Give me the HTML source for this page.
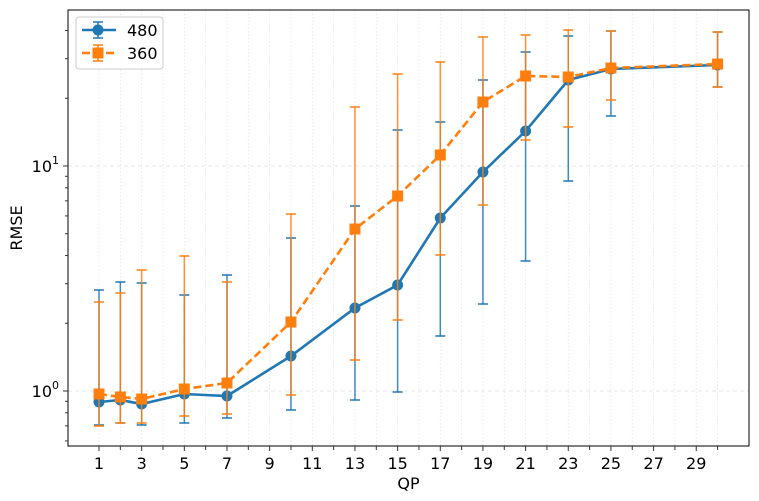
<!DOCTYPE html>
<html><head><meta charset="utf-8"><style>body{margin:0;background:#fff}svg{display:block}text{font-family:"DejaVu Sans","Liberation Sans",sans-serif}</style></head>
<body>
<svg id="s" width="759" height="501" viewBox="0 0 759 501" xmlns="http://www.w3.org/2000/svg"></svg>
<script>
const s=document.getElementById('s');let h='';
const X=q=>99+(q-1)*21.33;
const L=68,R=749,T=10,B=446;
for(let q=1;q<=30;q++){h+=`<line x1="${X(q)}" y1="${T}" x2="${X(q)}" y2="${B}" stroke="#e4e4e4" stroke-width="0.8" stroke-dasharray="1.5,2"/>`;}
const Y0=391,D=225;const Yv=v=>Y0-D*Math.log10(v);
h+=`<line x1="${L}" y1="${Yv(1)}" x2="${R}" y2="${Yv(1)}" stroke="#e0e0e0" stroke-dasharray="4,3" stroke-width="0.8"/>`;
h+=`<line x1="${L}" y1="${Yv(10)}" x2="${R}" y2="${Yv(10)}" stroke="#e0e0e0" stroke-dasharray="4,3" stroke-width="0.8"/>`;
h+=`<rect x="${L}" y="${T}" width="${R-L}" height="${B-T}" fill="none" stroke="#000" stroke-width="1"/>`;
for(let q=1;q<=30;q++){h+=`<line x1="${X(q)}" y1="${B}" x2="${X(q)}" y2="${B+(q%2?5:4)}" stroke="#333"/>`;if(q%2)h+=`<text x="${X(q)}" y="${B+23}" font-size="16" text-anchor="middle">${q}</text>`;}
[0.6,0.7,0.8,0.9,2,3,4,5,6,7,8,9,20,30,40,50].forEach(v=>{const y=Yv(v);if(y>T&&y<B)h+=`<line x1="${L-3}" y1="${y}" x2="${L}" y2="${y}" stroke="#333"/>`;});
[[1,'0'],[10,'1']].forEach(([v,e])=>{const y=Yv(v);h+=`<line x1="${L-5}" y1="${y}" x2="${L}" y2="${y}" stroke="#333"/><text x="${L-16}" y="${y+6}" font-size="16" text-anchor="end">10</text><text x="${L-9}" y="${y-2}" font-size="11" text-anchor="end">${e}</text>`;});
h+=`<text x="${(L+R)/2}" y="489" font-size="16" text-anchor="middle">QP</text>`;
h+=`<text transform="translate(22,${(T+B)/2}) rotate(-90)" font-size="16" text-anchor="middle">RMSE</text>`;
const qs=[1,2,3,5,7,10,13,15,17,19,21,23,25,30];
const a={y:[402,400,404,394,396,356,308,285,218,172,131,80,69,65],t:[290,282,283,295,275,238,206,130,122,80,52,36,31,32],b:[425,423,425,423,418,410,400,392,336,304,261,181,116,87]};
const c={y:[394,397,399,389,383,322,229,196,155,102,76,77,68,64],t:[302,293,270,256,282,214,107,74,62,37,35,30,31,32],b:[426,423,423,416,414,395,360,320,255,205,140,127,100,87]};
function series(d,col,dash,sq){let e='';qs.forEach((q,i)=>{const x=X(q);e+=`<line x1="${x}" y1="${d.t[i]}" x2="${x}" y2="${d.b[i]}" stroke="${col}" stroke-width="1.5" opacity="0.85"/><line x1="${x-5}" y1="${d.t[i]}" x2="${x+5}" y2="${d.t[i]}" stroke="${col}" stroke-width="1.5"/><line x1="${x-5}" y1="${d.b[i]}" x2="${x+5}" y2="${d.b[i]}" stroke="${col}" stroke-width="1.5"/>`;});
e+=`<polyline fill="none" stroke="${col}" stroke-width="2.6" ${dash?'stroke-dasharray="8,4"':''} points="${qs.map((q,i)=>X(q)+','+d.y[i]).join(' ')}"/>`;
qs.forEach((q,i)=>{const x=X(q);e+=sq?`<rect x="${x-5.5}" y="${d.y[i]-5.5}" width="11" height="11" fill="${col}"/>`:`<circle cx="${x}" cy="${d.y[i]}" r="5.5" fill="${col}"/>`;});return e;}
h+=series(a,'#1f77b4',false,false);h+=series(c,'#ff7f0e',true,true);
h+=`<rect x="76" y="17" width="87" height="52" rx="3" fill="#fff" fill-opacity="0.85" stroke="#ccc"/>`;
h+=`<line x1="82" y1="30" x2="116" y2="30" stroke="#1f77b4" stroke-width="2.6"/><line x1="98" y1="22" x2="98" y2="38" stroke="#1f77b4" stroke-width="1.5"/><line x1="93" y1="22" x2="103" y2="22" stroke="#1f77b4" stroke-width="1.5"/><line x1="93" y1="38" x2="103" y2="38" stroke="#1f77b4" stroke-width="1.5"/><circle cx="98" cy="30" r="5.5" fill="#1f77b4"/><text x="127" y="36" font-size="16">480</text>`;
h+=`<line x1="82" y1="53" x2="116" y2="53" stroke="#ff7f0e" stroke-width="2.6" stroke-dasharray="8,4"/><line x1="98" y1="45" x2="98" y2="61" stroke="#ff7f0e" stroke-width="1.5"/><line x1="93" y1="45" x2="103" y2="45" stroke="#ff7f0e" stroke-width="1.5"/><line x1="93" y1="61" x2="103" y2="61" stroke="#ff7f0e" stroke-width="1.5"/><rect x="92.5" y="47.5" width="11" height="11" fill="#ff7f0e"/><text x="127" y="59" font-size="16">360</text>`;
s.innerHTML=h;
</script>
</body></html>
